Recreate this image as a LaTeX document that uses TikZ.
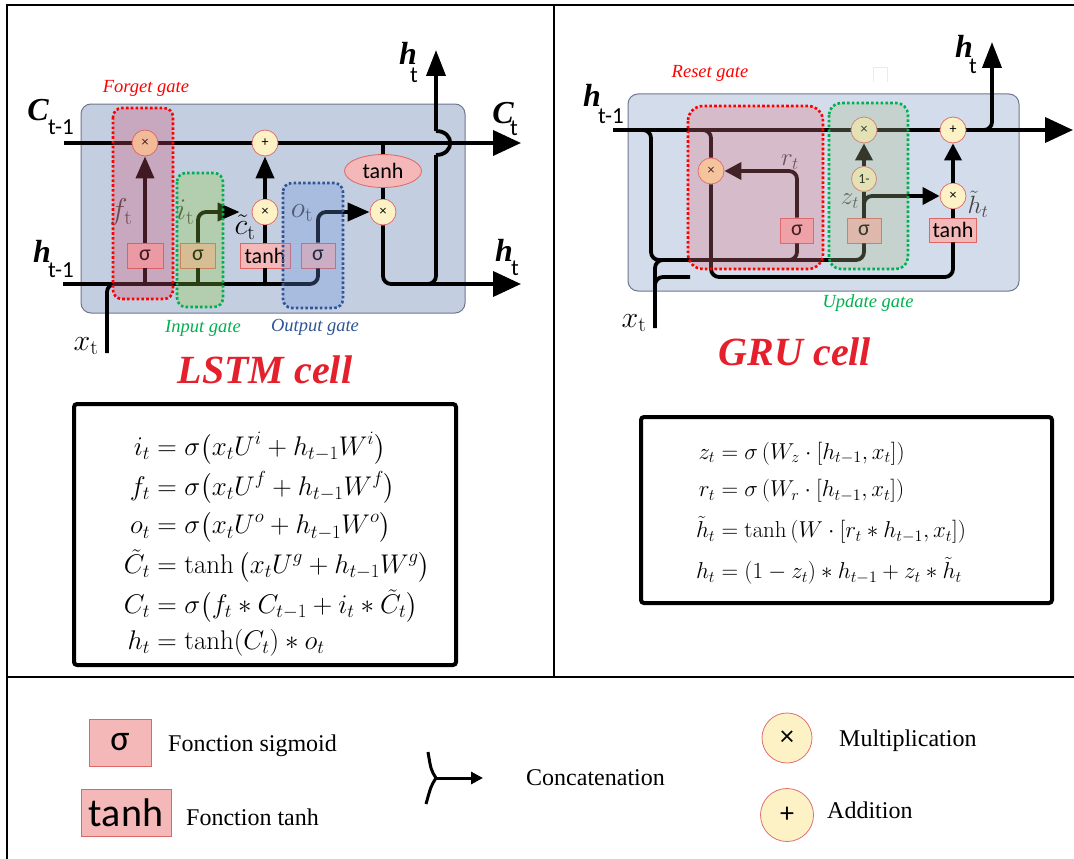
\RequirePackage{fix-cm}
\documentclass[tikz,border=0pt]{standalone}
\usepackage{amsmath}
\usepackage[no-math]{fontspec}
\setmainfont{Liberation Serif}
\newfontfamily\calibfont{Carlito}
\usetikzlibrary{arrows.meta,shapes.geometric}

\definecolor{lstmbg}{HTML}{C3CEE0}
\definecolor{grubg}{HTML}{D3DCEA}
\definecolor{cellrim}{HTML}{70788A}
\definecolor{actfill}{HTML}{F5B8B8}
\definecolor{actrim}{HTML}{DD6666}
\definecolor{opfill}{HTML}{FDF2C6}
\definecolor{opwarm}{HTML}{FFE9A8}
\definecolor{oprim}{HTML}{E07070}
\definecolor{forgetred}{HTML}{FF0000}
\definecolor{inputgreen}{HTML}{00B050}
\definecolor{outputblue}{HTML}{2F5597}
\definecolor{forgetfill}{HTML}{D45372}
\definecolor{inputfill}{HTML}{91CB40}
\definecolor{outputfill}{HTML}{6C95E0}
\definecolor{resetfill}{HTML}{E07183}
\definecolor{updatefill}{HTML}{ABBB90}
\definecolor{titlered}{HTML}{E3202B}
\definecolor{labgray}{HTML}{444444}

\begin{document}
\begin{tikzpicture}[
    x=1pt, y=-1pt,
    wire/.style={line width=3.8pt, rounded corners=8pt},
    bigtip/.style={-{Triangle[length=28pt,width=25pt]}},
    uptip/.style={-{Triangle[length=26pt,width=19pt]}},
    midtip/.style={-{Triangle[length=22pt,width=18pt]}},
    smalltip/.style={-{Triangle[length=17pt,width=17pt]}},
    cellbox/.style={draw=cellrim, line width=1pt, rounded corners=10pt},
    zone/.style={line width=2.6pt, dash pattern=on 2.6pt off 2.2pt, rounded corners=9pt, fill opacity=0.3},
    actbox/.style={draw=actrim, fill=actfill, line width=0.8pt, minimum height=25pt, inner sep=0pt, font=\calibfont\fontsize{22}{22}\selectfont},
    opnode/.style={circle, draw=oprim, fill=opfill, line width=0.8pt, minimum size=26pt, inner sep=0pt, font=\calibfont\fontsize{14}{14}\selectfont},
    vec/.style={inner sep=0pt, font=\fontsize{32}{32}\selectfont\bfseries\itshape},
    idx/.style={inner sep=0pt, font=\calibfont\fontsize{23}{23}\selectfont},
    gatevar/.style={inner sep=0pt, font=\fontsize{30}{30}\selectfont},
    gruvar/.style={inner sep=0pt, text=labgray, font=\fontsize{25}{25}\selectfont},
    gatename/.style={inner sep=0pt, font=\fontsize{18.5}{18.5}\selectfont\itshape},
    cellname/.style={inner sep=0pt, text=titlered, font=\fontsize{40}{40}\selectfont\bfseries\itshape},
    eqframe/.style={draw, line width=4pt, rounded corners=3pt},
    legtext/.style={anchor=west, inner sep=0pt, font=\fontsize{24}{24}\selectfont}
]
\fill[white] (0,0) rectangle (1074,859);
\useasboundingbox (0,0) rectangle (1074,859);

\draw[line width=2.6pt] (1074,5) -- (7,5) -- (7,859);
\draw[line width=2.6pt] (554,5) -- (554,677);
\draw[line width=2.6pt] (7,677) -- (1074,677);

% LSTM cell
\draw[cellbox, fill=lstmbg] (81,104) rectangle (465,313);
\coordinate (cprev) at (64,143);
\coordinate (cnext) at (521,143);
\coordinate (hprev) at (63,284);
\coordinate (hnext) at (521,284);
\coordinate (xin) at (107,353);
\coordinate (htop) at (436,50);
\draw[wire, bigtip] (cprev) -- (cnext);

\node[gatevar, text=labgray] (flab) at (121,212) {$f_{\mathrm{t}}$};
\node[gatevar, text=labgray] (ilab) at (185,212) {$i_{\mathrm{t}}$};
\node[gatevar, text=labgray] (olab) at (302,213) {$o_{\mathrm{t}}$};

\node[opnode, fill=opwarm] (fmul) at (145,143) {×};
\node[opnode] (cadd) at (265,143) {+};
\node[opnode] (imul) at (265,212) {×};
\node[opnode] (omul) at (383,212) {×};
\node[ellipse, draw=actrim, fill=actfill, line width=0.8pt, minimum width=77pt, minimum height=33pt, inner sep=0pt, font=\calibfont\fontsize{22}{22}\selectfont] (ctanh) at (383,171) {tanh};
\node[actbox, minimum width=36pt] (fsig) at (145,255.5) {σ};
\node[actbox, minimum width=35pt] (isig) at (198,255.5) {σ};
\node[actbox, minimum width=50pt] (gtanh) at (265,255.5) {tanh};
\node[actbox, minimum width=34pt] (osig) at (318,255.5) {σ};

\draw[wire] (xin) |- (150,284);
\draw[wire] (hprev) -| (osig);
\draw[wire, midtip] (osig) |- (omul);
\draw[wire] (fsig) -- (fsig |- hprev);
\draw[wire, midtip] (fsig) -- (fmul);
\draw[wire] (isig) -- (isig |- hprev);
\draw[wire, midtip, shorten >=12pt] (isig) |- (imul);
\draw[wire] (gtanh) -- (gtanh |- hprev);
\draw[wire] (gtanh) -- (imul);
\draw[wire, midtip] (imul) -- (cadd);
\draw[wire] (ctanh) -- (ctanh |- cprev);
\draw[wire] (ctanh) -- (omul);
\draw[wire, bigtip] (omul) |- (hnext);
\draw[wire] (415,284) -| (436,155);
\draw[wire] (436,155) .. controls (455,155) and (455,131) .. (436,131);
\draw[wire, uptip] (436,131) -- (htop);

\node[gatevar] (clab) at (245,227) {$\tilde{c}_{\mathrm{t}}$};

\draw[zone, draw=forgetred, fill=forgetfill] (113,108) rectangle (173,299);
\draw[zone, draw=inputgreen, fill=inputfill] (177,173) rectangle (223,307);
\draw[zone, draw=outputblue, fill=outputfill] (283,183) rectangle (343,308);

\node[vec] (cprevlab) at (38,110) {C};
\node[idx] (cprevidx) at (61,127) {t-1};
\node[vec] (hprevlab) at (42,251) {h};
\node[idx] (hprevidx) at (61,270) {t-1};
\node[gatevar] (xlab) at (86,346) {$x_{\mathrm{t}}$};
\node[vec] (cnextlab) at (503,113) {C};
\node[idx] (cnextidx) at (514,128) {t};
\node[vec] (hnextlab) at (504,250) {h};
\node[idx] (hnextidx) at (515,268) {t};
\node[vec] (htoplab) at (408,53) {h};
\node[idx] (htopidx) at (414,75) {t};

\node[gatename, text=forgetred] (forgetname) at (146,88) {Forget gate};
\node[gatename, text=inputgreen] (inputname) at (203,328) {Input gate};
\node[gatename, text=outputblue] (outputname) at (315,327) {Output gate};
\node[cellname] (lstmname) at (265,370) {LSTM cell};

% GRU cell
\draw[cellbox, fill=grubg] (628,94) rectangle (1019,291);
\coordinate (gprev) at (613,130);
\coordinate (gnext) at (1073,130);
\coordinate (gup) at (992,42);
\coordinate (gxin) at (655,328);
\coordinate (gxfork) at (655,298);
\coordinate (tjoin) at (953,277);
\draw[wire, bigtip] (gprev) -- (gnext);

\node[gruvar] (rlab) at (790,162) {$r_t$};
\node[gruvar] (zlab) at (850,201) {$z_t$};
\node[gruvar] (htlab) at (978,204) {$\tilde{h}_t$};

\node[opnode, fill=opwarm] (rmul) at (711,171) {×};
\node[opnode] (umul) at (864,130) {×};
\node[opnode] (radd) at (953,130) {+};
\node[opnode, minimum size=25pt] (oneminus) at (864,179) {1-};
\node[opnode] (hmul) at (953,196) {×};
\node[actbox, minimum width=33pt] (rsig) at (797,230.5) {σ};
\node[actbox, minimum width=34pt] (usig) at (864,230.5) {σ};
\node[actbox, minimum width=47pt, minimum height=24pt] (htanh) at (953,230) {tanh};

\draw[wire] (640,130) -| (651,260) -| (usig);
\draw[wire] (770,260) -| (rsig);
\draw[wire, smalltip] (rsig) |- (rmul);
\draw[wire] (usig) -- (oneminus);
\draw[wire, smalltip] (oneminus) -- (umul);
\draw[wire, smalltip] (864,212) |- (hmul);
\draw[wire] (htanh) -- (hmul);
\draw[wire, smalltip] (hmul) -- (radd);
\draw[wire, uptip] (975,130) -| (gup);
\draw[wire] (698,130) -| (rmul);
\draw[wire] (rmul) |- (tjoin) -- (htanh);
\draw[wire] (gxin) |- (680,260);
\draw[wire] (gxfork) |- (690,277);

\draw[zone, draw=forgetred, fill=resetfill, rounded corners=15pt] (688,106) rectangle (823,269);
\draw[zone, draw=inputgreen, fill=updatefill, rounded corners=12pt] (829,103) rectangle (908,269);
\draw[draw=opfill!60!yellow, line width=1pt] (873,82) |- (887,68) -- (887,82);

\node[vec] (gprevlab) at (592,95) {h};
\node[idx] (gprevidx) at (611,116) {t-1};
\node[vec] (guplab) at (964,46) {h};
\node[idx] (gupidx) at (973,66) {t};
\node[gatevar] (gxlab) at (634,323) {$x_{\mathrm{t}}$};
\node[gatename, text=forgetred] (resetname) at (710,73) {Reset gate};
\node[gatename, text=inputgreen] (updatename) at (868,303) {Update gate};
\node[cellname] (gruname) at (795,352) {GRU cell};

% equations
\draw[eqframe] (74,404) rectangle (456,665);
\node[inner sep=0pt, font=\fontsize{27}{27}\selectfont] (lstmeq) at (277,545) {\setlength{\jot}{5pt}$\begin{aligned}
 i_t &= \sigma\bigl(x_tU^i + h_{t-1}W^i\bigr)\\
 f_t &= \sigma\bigl(x_tU^f + h_{t-1}W^f\bigr)\\
 o_t &= \sigma\bigl(x_tU^o + h_{t-1}W^o\bigr)\\
 \tilde{C}_t &= \tanh\,\bigl(x_tU^g + h_{t-1}W^g\bigr)\\
 C_t &= \sigma\bigl(f_t * C_{t-1} + i_t * \tilde{C}_t\bigr)\\
 h_t &= \tanh(C_t) * o_t
\end{aligned}$};

\draw[eqframe] (641,417) rectangle (1052,603);
\node[inner sep=0pt, font=\fontsize{23}{23}\selectfont] (grueq) at (831,514) {\setlength{\jot}{12pt}$\begin{aligned}
 z_t &= \sigma\left(W_z\cdot[h_{t-1},x_t]\right)\\
 r_t &= \sigma\left(W_r\cdot[h_{t-1},x_t]\right)\\
 \tilde{h}_t &= \tanh\left(W\cdot[r_t*h_{t-1},x_t]\right)\\
 h_t &= (1-z_t)*h_{t-1}+z_t*\tilde{h}_t
\end{aligned}$};

% legend
\node[actbox, minimum width=62pt, minimum height=47pt, font=\calibfont\fontsize{36}{36}\selectfont] (legsig) at (120,742.5) {σ};
\node[legtext] (legsigtxt) at (168,746) {Fonction sigmoid};
\node[actbox, minimum width=90pt, minimum height=47pt, font=\calibfont\fontsize{40}{40}\selectfont] (legtanh) at (126,812.5) {tanh};
\node[legtext] (legtanhtxt) at (186,817) {Fonction tanh};
\coordinate (cattop) at (428,752);
\coordinate (catmid) at (436,778);
\coordinate (catbot) at (426,804);
\coordinate (catend) at (483,778);
\draw[line width=3pt] (cattop) .. controls (431,770) .. (catmid) .. controls (431,786) .. (catbot);
\draw[line width=3pt, -{Triangle[length=12pt,width=12pt]}] (catmid) -- (catend);
\node[legtext] (cattxt) at (526,778) {Concatenation};
\node[opnode, minimum size=50pt, font=\calibfont\fontsize{28}{28}\selectfont] (legmul) at (787,738) {×};
\node[legtext] (legmultxt) at (839,741) {Multiplication};
\node[opnode, minimum size=53pt, font=\calibfont\fontsize{28}{28}\selectfont] (legadd) at (787,815) {+};
\node[legtext] (legaddtxt) at (827,810) {Addition};
\end{tikzpicture}
\end{document}
